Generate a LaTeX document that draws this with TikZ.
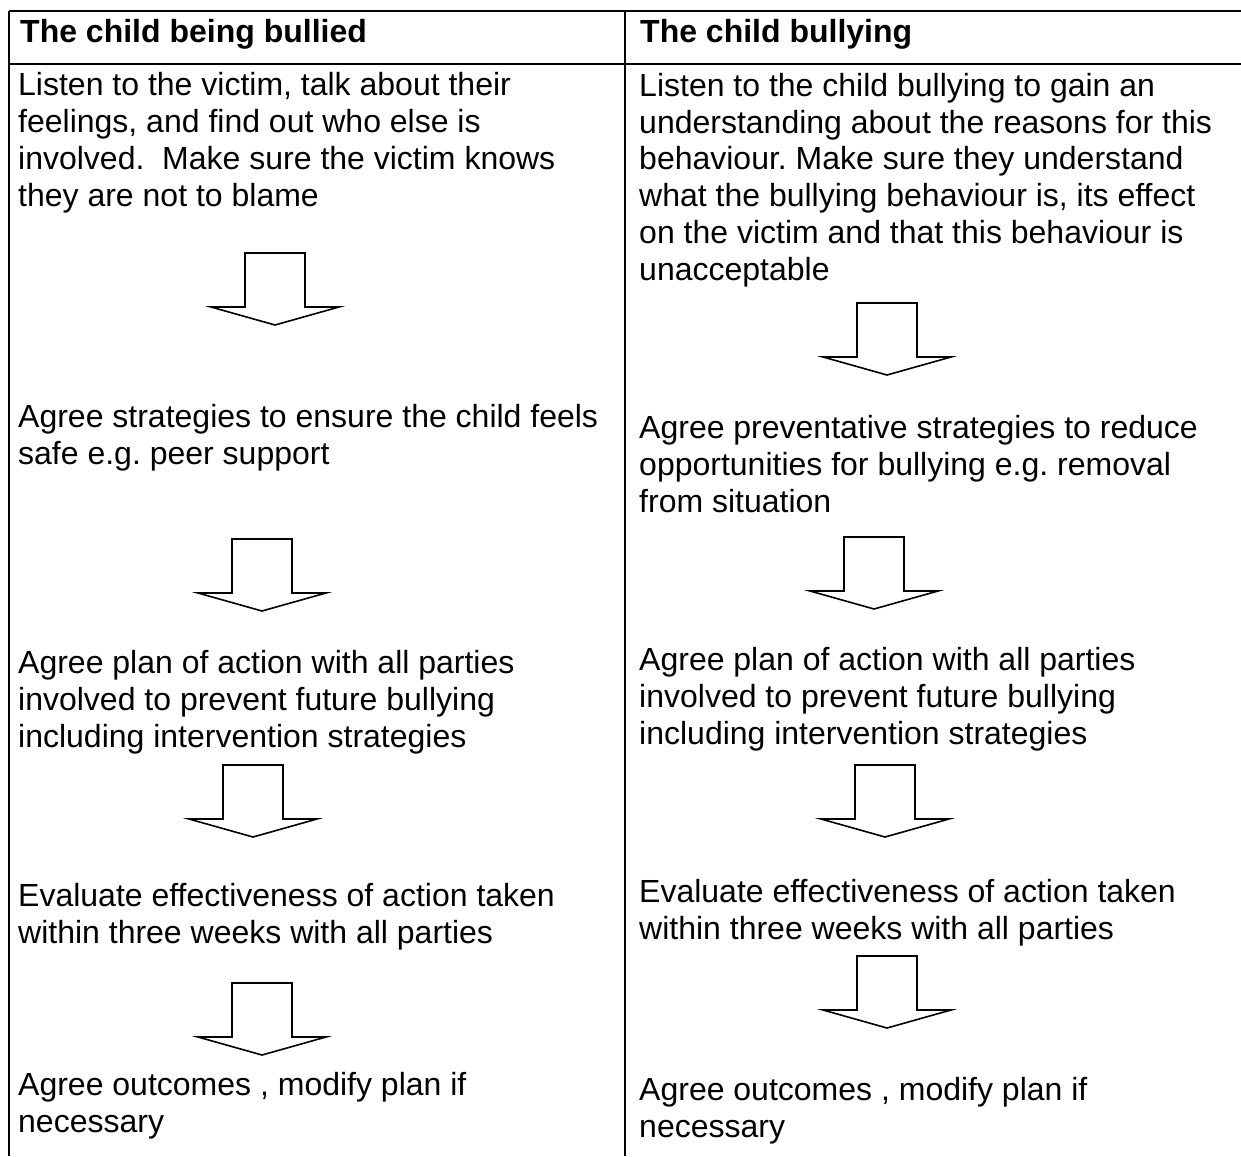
\documentclass[tikz,border=0pt]{standalone}
\usepackage{fontspec}
\setmainfont{Liberation Sans}
\frenchspacing
\begin{document}
\begin{tikzpicture}[x=1pt,y=-1pt,line join=miter,
	cell/.style={anchor=base west,inner sep=0pt,align=left,font=\fontsize{32}{36.7}\selectfont},
	head/.style={cell,font=\fontsize{32}{36.7}\selectfont\bfseries},
	rule/.style={line width=2pt},
	blockarrow/.pic={\draw[line width=1.6pt] (-30,0) -- (30,0) -- (30,54) -- (64,54) -- (0,72) -- (-64,54) -- (-30,54) -- cycle;}]
	\useasboundingbox (0,0) rectangle (1241,1156);
	% table lines
	\path (9,11) coordinate (TL)
	(1241,11) coordinate (TR)
	(9,64) coordinate (HL)
	(1241,64) coordinate (HR)
	(9,1156) coordinate (BL)
	(625,11) coordinate (MT)
	(625,1156) coordinate (MB)
	;
	\draw[rule] (TL)--(TR) (HL)--(HR) (TL)--(BL) (MT)--(MB);
	% headings
	\node[head] (hl) at (20,42) {The child being bullied};
	\node[head] (hr) at (640,42) {The child bullying};
	% left column (placed at the baseline of the last line)
	\node[cell] (l1) at (18,206) {Listen to the victim, talk about their\\feelings, and find out who else is\\involved.\ \ Make sure the victim knows\\they are not to blame};
	\node[cell] (l2) at (18,464) {Agree strategies to ensure the child feels\\safe e.g. peer support};
	\node[cell] (l3) at (18,747) {Agree plan of action with all parties\\involved to prevent future bullying\\including intervention strategies};
	\node[cell] (l4) at (18,943) {Evaluate effectiveness of action taken\\within three weeks with all parties};
	\node[cell] (l5) at (18,1132) {Agree outcomes , modify plan if\\necessary};
	% right column
	\node[cell] (r1) at (639,280) {Listen to the child bullying to gain an\\understanding about the reasons for this\\behaviour. Make sure they understand\\what the bullying behaviour is, its effect\\on the victim and that this behaviour is\\unacceptable};
	\node[cell] (r2) at (639,512) {Agree preventative strategies to reduce\\opportunities for bullying e.g. removal\\from situation};
	\node[cell] (r3) at (639,744) {Agree plan of action with all parties\\involved to prevent future bullying\\including intervention strategies};
	\node[cell] (r4) at (639,939) {Evaluate effectiveness of action taken\\within three weeks with all parties};
	\node[cell] (r5) at (639,1137) {Agree outcomes , modify plan if\\necessary};
	% arrows between the steps
	\path (275,253) coordinate (al1)
	(262,539) coordinate (al2)
	(253,765) coordinate (al3)
	(262,983) coordinate (al4)
	(887,303) coordinate (ar1)
	(874,537) coordinate (ar2)
	(885,765) coordinate (ar3)
	(887,956) coordinate (ar4)
	;
	\foreach \a in {al1,al2,al3,al4,ar1,ar2,ar3,ar4}
	\pic at (\a) {blockarrow};
\end{tikzpicture}
\end{document}
